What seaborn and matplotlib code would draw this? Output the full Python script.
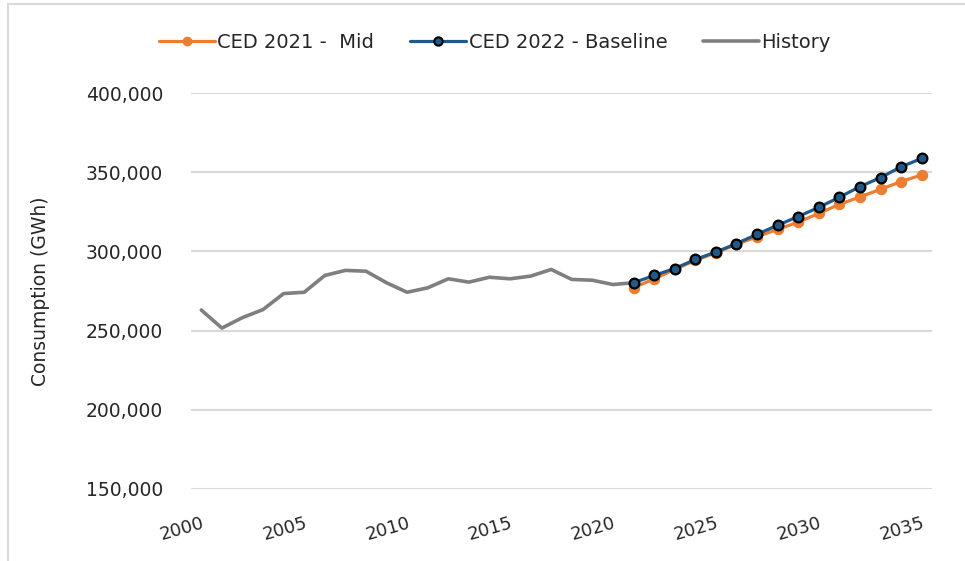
import matplotlib
matplotlib.use("Agg")
import pandas as pd
import matplotlib.pyplot as plt
from matplotlib.lines import Line2D
from matplotlib.ticker import FuncFormatter, MultipleLocator
import seaborn as sns

# values (GWh)
history_years = list(range(2000, 2022))
history_gwh = [263000, 251600, 258200, 263300, 273400, 274200, 284800, 288000,
               287500, 280200, 274200, 277000, 282700, 280600, 283700, 282700,
               284400, 288600, 282300, 281800, 279100, 280200]

forecast_years = list(range(2021, 2036))
ced2021_mid = [277000, 282700, 288600, 294300, 299200, 304400, 309300, 313900,
               318500, 324000, 329700, 334400, 339200, 344100, 348300]
ced2022_baseline = [280200, 284800, 289200, 294900, 299600, 304900, 310800, 316500,
                    322000, 327800, 334200, 340900, 346600, 353400, 358700]

x_ticks = [2000, 2005, 2010, 2015, 2020, 2025, 2030, 2035]
legend_labels = ["CED 2021 -  Mid", "CED 2022 - Baseline", "History"]

ORANGE = "#ED7D31"
BLUE = "#1F5A8A"
GREY = "#7F7F7F"
GRID = "#D9D9D9"
TEXT = "#262626"

sns.set_theme(style="white")
plt.rcParams["font.family"] = ["DejaVu Sans"]

hist = pd.DataFrame({"Year": history_years, "GWh": history_gwh})
fc = pd.DataFrame({"Year": forecast_years, "Mid": ced2021_mid, "Baseline": ced2022_baseline})

fig = plt.figure(figsize=(9.65, 5.61), dpi=100)
ax = fig.add_axes([191 / 965, 1 - 489 / 561, (932 - 191) / 965, (489 - 93) / 561])

sns.lineplot(data=hist, x="Year", y="GWh", ax=ax, color=GREY, linewidth=2.6, zorder=2)
sns.lineplot(data=fc, x="Year", y="Mid", ax=ax, color=ORANGE, linewidth=2.3,
             marker="o", markersize=7.5, markeredgecolor=ORANGE, zorder=3)
sns.lineplot(data=fc, x="Year", y="Baseline", ax=ax, color=BLUE, linewidth=2.3,
             marker="o", markersize=7, markeredgecolor="black", markeredgewidth=1.6, zorder=4)

ax.set_xlim(1999.5, 2035.5)
ax.set_ylim(150000, 400000)
ax.yaxis.set_major_locator(MultipleLocator(50000))
ax.yaxis.set_major_formatter(FuncFormatter(lambda v, p: f"{int(v):,}"))
ax.set_xticks(x_ticks)
ax.set_xticklabels([str(t) for t in x_ticks], rotation=16, ha="right",
                   va="top", rotation_mode="anchor")
ax.tick_params(axis="both", length=0, colors=TEXT)
ax.tick_params(axis="x", pad=18, labelsize=13)
ax.tick_params(axis="y", pad=20, labelsize=13.5)
ax.grid(axis="y", color=GRID, linewidth=1.5)
ax.set_axisbelow(True)
for s in ax.spines.values():
    s.set_visible(False)
ax.set_xlabel("")
ax.set_ylabel("Consumption (GWh)", fontsize=13.5, color=TEXT)
ax.yaxis.set_label_coords((50 - 191) / 741, 0.5)

handles = [
    Line2D([], [], color=ORANGE, linewidth=2.3, marker="o", markersize=6,
           markeredgecolor=ORANGE),
    Line2D([], [], color=BLUE, linewidth=2.3, marker="o", markersize=6,
           markeredgecolor="black", markeredgewidth=1.5),
    Line2D([], [], color=GREY, linewidth=2.6),
]
fig.legend(handles, legend_labels, loc="center", bbox_to_anchor=(495 / 965, 1 - 42 / 561),
           ncol=3, frameon=False, fontsize=14, handlelength=2.85,
           handletextpad=0.15, columnspacing=1.85, labelcolor=TEXT)

# outer chart frame (partly cut off in the source)
fig.add_artist(Line2D([8 / 965, 8 / 965], [0, 1 - 4 / 561], color=GRID, linewidth=1.5,
                      transform=fig.transFigure))
fig.add_artist(Line2D([8 / 965, 1], [1 - 4 / 561, 1 - 4 / 561], color=GRID, linewidth=1.5,
                      transform=fig.transFigure))

fig.savefig("out.png", dpi=100)
